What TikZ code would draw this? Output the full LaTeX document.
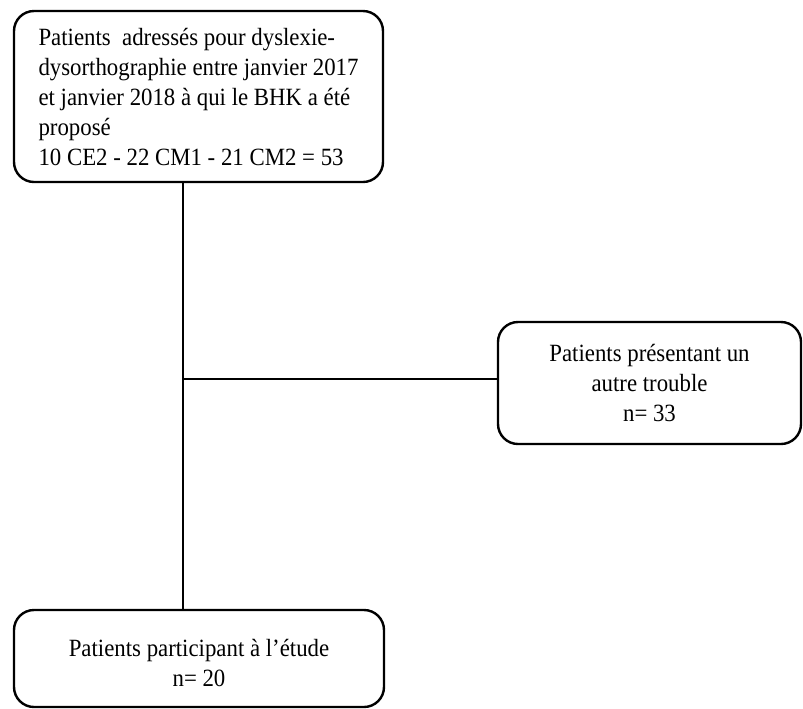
\documentclass[tikz,border=0pt]{standalone}
\usepackage{fontspec}
\setmainfont{Liberation Serif}[FakeStretch=0.92]
\usetikzlibrary{positioning,calc}

\begin{document}
\begin{tikzpicture}[x=0.5pt, y=-0.5pt,
        boite/.style={rectangle, draw, line width=1.2pt, rounded corners=10pt, inner sep=0pt, font=\fontsize{12.4}{15}\selectfont},
        lien/.style={line width=1.1pt}]
        \useasboundingbox (0,0) rectangle (803,708);

        \node (adresses) [boite, minimum width=184.5pt, minimum height=85.5pt, align=left] at (198.5,96.5) {Patients\ \ adressés pour dyslexie-\\dysorthographie entre janvier 2017\\et janvier 2018 à qui le BHK a été\\proposé\\10 CE2 - 22 CM1 - 21 CM2 = 53};
        \node (autre) [boite, minimum width=151.5pt, minimum height=61pt, align=center] at (649.5,383) {Patients présentant un\\autre trouble\\n= 33};
        \node (etude) [boite, minimum width=185pt, minimum height=48.5pt, align=center] at (199,658.5) {\rule{0pt}{13pt}Patients participant à l’étude\\n= 20};

        % Embranchement
        \coordinate (embranchement) at (183,379);
        \draw[lien] (adresses.south -| embranchement) -- (etude.north -| embranchement);
        \draw[lien] (embranchement) -- (embranchement -| autre.west);
    \end{tikzpicture}
\end{document}
